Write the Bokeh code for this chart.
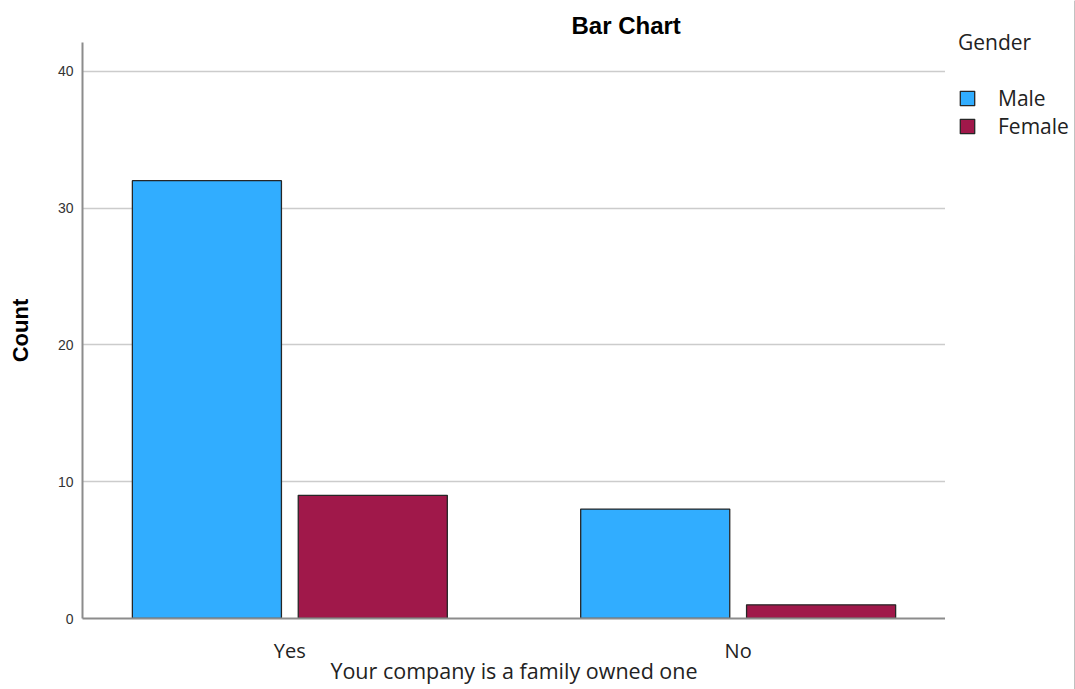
from bokeh.plotting import figure
from bokeh.layouts import row, column
from bokeh.models import FactorRange, Range1d, Legend, LegendItem, ColumnDataSource, FixedTicker
from bokeh.transform import dodge
from bokeh.embed import file_html
from bokeh.resources import INLINE

categories = ["Yes", "No"]
genders = ["Male", "Female"]
male_counts = [32, 8]
female_counts = [9, 1]
y_ticks = [0, 10, 20, 30, 40]

MALE = "#31adff"
FEMALE = "#a0184a"
OUTLINE = "#262626"

src = ColumnDataSource(dict(cat=categories, male=male_counts, female=female_counts))

xr = FactorRange(factors=categories, factor_padding=0.2,
                 range_padding=0.055, range_padding_units="absolute")

p = figure(x_range=xr, y_range=Range1d(0, 42.1), width=945, height=689,
           output_backend="svg", toolbar_location=None,
           min_border_left=82, min_border_right=0, min_border_top=42, min_border_bottom=71)

r_m = p.vbar(x=dodge("cat", -0.222, range=xr), top="male", width=0.399, source=src,
             fill_color=MALE, line_color=OUTLINE, line_width=1.3)
r_f = p.vbar(x=dodge("cat", 0.222, range=xr), top="female", width=0.399, source=src,
             fill_color=FEMALE, line_color=OUTLINE, line_width=1.3)

p.outline_line_color = None
p.background_fill_color = "white"
p.border_fill_color = "white"

# title
p.title.text = "Bar Chart"
p.title.text_font = "Liberation Sans"
p.title.text_font_size = "24px"
p.title.text_font_style = "bold"
p.title.text_color = "#000000"
p.title.align = "left"
p.title.offset = 489
p.title.standoff = 8

# grid
p.xgrid.visible = False
p.ygrid.grid_line_color = "#cccccc"
p.ygrid.grid_line_width = 1.6

# y axis
p.yaxis.ticker = FixedTicker(ticks=y_ticks)
p.yaxis.axis_label = "Count"
p.yaxis.axis_label_text_font = "Liberation Sans"
p.yaxis.axis_label_text_font_size = "22px"
p.yaxis.axis_label_text_font_style = "bold"
p.yaxis.axis_label_text_color = "#000000"
p.yaxis.axis_label_standoff = 22
p.yaxis.major_label_text_font = "Liberation Sans"
p.yaxis.major_label_text_font_size = "14px"
p.yaxis.major_label_text_color = "#333333"
p.yaxis.major_label_standoff = 9
p.yaxis.major_tick_out = 0
p.yaxis.major_tick_in = 0
p.yaxis.minor_tick_out = 0
p.yaxis.minor_tick_in = 0
p.yaxis.axis_line_color = "#8c8c8c"
p.yaxis.axis_line_width = 2

# x axis
p.xaxis.axis_label = "Your company is a family owned one"
p.xaxis.axis_label_text_font = "Open Sans"
p.xaxis.axis_label_text_font_size = "21.5px"
p.xaxis.axis_label_text_font_style = "normal"
p.xaxis.axis_label_text_color = "#222222"
p.xaxis.axis_label_standoff = -11
p.xaxis.major_label_text_font = "Open Sans"
p.xaxis.major_label_text_font_size = "20px"
p.xaxis.major_label_text_color = "#222222"
p.xaxis.major_label_standoff = 18
p.xaxis.major_tick_out = 0
p.xaxis.major_tick_in = 0
p.xaxis.axis_line_color = "#8c8c8c"
p.xaxis.axis_line_width = 2

# legend panel (separate narrow figure to the right)
lp = figure(width=130, height=689, output_backend="svg", toolbar_location=None,
            x_range=Range1d(0, 1), y_range=Range1d(0, 1),
            x_axis_location=None, y_axis_location=None, min_border=0)
lp.title.visible = False
lp.xgrid.visible = False
lp.ygrid.visible = False
lp.outline_line_color = None
lp.background_fill_color = "white"
lp.border_fill_color = "white"
# key renderers sit outside the visible range; only their legend swatches show
k_m = lp.vbar(x=[5], top=[1], width=0.5, fill_color=MALE, line_color=OUTLINE, line_width=1.3)
k_f = lp.vbar(x=[5], top=[1], width=0.5, fill_color=FEMALE, line_color=OUTLINE, line_width=1.3)

legend = Legend(items=[LegendItem(label=genders[0], renderers=[k_m]),
                       LegendItem(label=genders[1], renderers=[k_f])],
                title="Gender", location=(13, 549))
legend.title_text_font = "Open Sans"
legend.title_text_font_size = "21px"
legend.title_text_font_style = "normal"
legend.title_text_color = "#222222"
legend.title_standoff = 28
legend.label_text_font = "Open Sans"
legend.label_text_font_size = "21px"
legend.label_text_color = "#222222"
legend.glyph_width = 18
legend.glyph_height = 18
legend.label_standoff = 22
legend.label_height = 20
legend.spacing = 0
legend.padding = 0
legend.margin = 0
legend.border_line_color = None
legend.background_fill_alpha = 0
lp.add_layout(legend)

layout = row(p, column(lp))
open("out.html", "w").write(file_html(layout, INLINE))
